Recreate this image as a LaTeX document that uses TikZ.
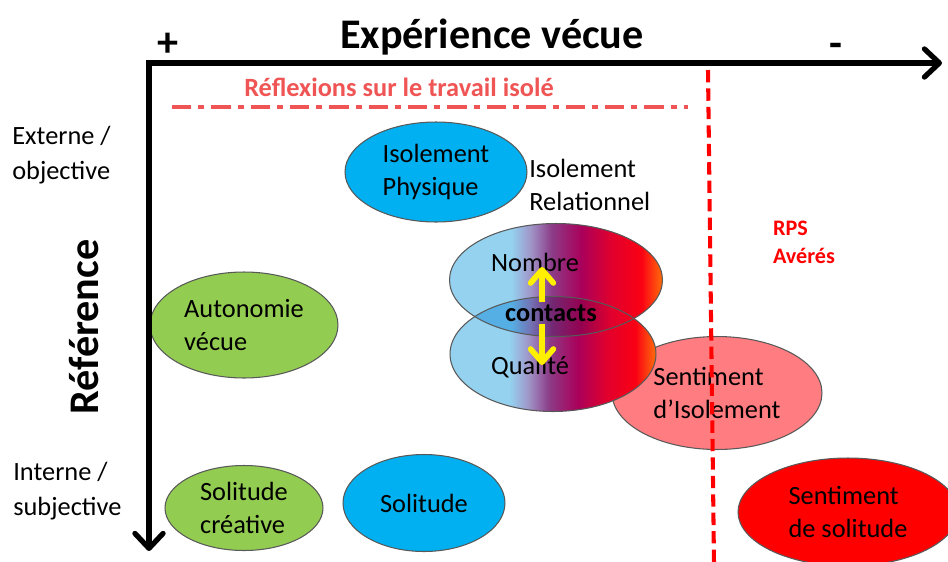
\documentclass[tikz,border=0pt]{standalone}
\usepackage{fontspec}
\setmainfont{Carlito}
\usepackage{tikz}
\usetikzlibrary{shapes.geometric, arrows.meta, positioning}
\definecolor{bluecolor}{RGB}{0, 176, 240}
\definecolor{greencolor}{RGB}{146, 204, 80}
\definecolor{salmoncolor}{RGB}{255, 124, 128}
\definecolor{redcolor}{RGB}{255, 0, 0}
\definecolor{notecolor}{RGB}{240, 85, 85}
\definecolor{arrowcolor}{RGB}{255, 240, 0}
\definecolor{gblue}{RGB}{148, 210, 240}
\definecolor{glav}{RGB}{160, 150, 200}
\definecolor{gpurple}{RGB}{140, 60, 135}
\definecolor{gcrimson}{RGB}{170, 0, 90}
\definecolor{gred}{RGB}{225, 0, 45}
\definecolor{gredb}{RGB}{250, 0, 20}
\definecolor{gorange}{RGB}{255, 110, 10}
\definecolor{dblue}{RGB}{85, 175, 228}
\definecolor{dlav}{RGB}{115, 115, 180}
\definecolor{dpurple}{RGB}{115, 40, 115}
\definecolor{dcrimson}{RGB}{150, 0, 80}
\pgfdeclarehorizontalshading{contactshade}{100bp}{color(0bp)=(gblue); color(25bp)=(gblue); color(39.5bp)=(gblue); color(44bp)=(glav); color(49bp)=(gpurple); color(56bp)=(gcrimson); color(63bp)=(gred); color(70bp)=(gredb); color(75bp)=(gorange); color(100bp)=(gorange)}
\pgfdeclarehorizontalshading{overlapshade}{100bp}{color(0bp)=(dblue); color(25bp)=(dblue); color(39.5bp)=(dblue); color(44bp)=(dlav); color(49bp)=(dpurple); color(56bp)=(dcrimson); color(63bp)=(gred); color(70bp)=(gredb); color(75bp)=(gorange); color(100bp)=(gorange)}

\begin{document}
\begin{tikzpicture}[x=0.02cm, y=-0.02cm,
    titre/.style={font=\fontsize{24}{29}\selectfont\bfseries, inner sep=0pt},
    txt/.style={font=\fontsize{15}{18.5}\selectfont, align=left, inner sep=0pt},
    blob/.style={ellipse, draw=black!65, line width=0.6pt, txt},
    outline/.style={draw=black!65, line width=0.6pt},
    axisline/.style={line width=3pt, line join=miter, {Straight Barb[length=8.5pt,width=16pt,round]}-{Straight Barb[length=8.5pt,width=16pt,round]}},
    yarrow/.style={line width=3.2pt, draw=arrowcolor, -{Straight Barb[length=7.5pt,width=13pt,round]}}]
    \useasboundingbox (0,0) rectangle (948,562);

    % Titles
    \node[titre, anchor=base] (titre) at (492,48) {Expérience vécue};
    \node[titre, anchor=base] (plus) at (168,56) {+};
    \node[titre, anchor=base] (moins) at (836,57) {-};
    \node[titre, rotate=90] (reference) at (84,327) {Référence};

    % Left labels
    \node[txt, anchor=west, font=\fontsize{15}{20}\selectfont] (externe) at (12,155) {Externe /\\objective};
    \node[txt, anchor=west, font=\fontsize{15}{20}\selectfont] (interne) at (13,491) {Interne /\\subjective};

    % Reflexions
    \node[txt, font=\fontsize{15}{18}\selectfont\bfseries, text=notecolor] (reflexions) at (399,87) {Réflexions sur le travail isolé};
    \draw[notecolor, line width=2.8pt, dash pattern=on 11pt off 4pt on 3.4pt off 4pt] (172,107) -- (688,107);

    % Isolement
    \node[blob, fill=bluecolor, minimum width=3.64cm, minimum height=2cm] (physique) at (436,172) {Isolement\\Physique};
    \node[txt, anchor=west] (relationnel) at (529,185) {Isolement\\Relationnel};

    % Autonomie
    \node[blob, fill=greencolor, minimum width=3.76cm, minimum height=2.12cm] (autonomie) at (244,325) {Autonomie\\vécue};

    % Sentiment d'isolement
    \node[blob, fill=salmoncolor, minimum width=4.2cm, minimum height=2.26cm] (sentiso) at (717,393) {Sentiment\\d’Isolement};

    % Contacts
    \node[ellipse, inner sep=0pt, minimum width=4.26cm, minimum height=2.26cm, shade, shading=contactshade] (nombre) at (556,280) {};
    \node[ellipse, inner sep=0pt, minimum width=4.12cm, minimum height=2.3cm, shade, shading=contactshade] (qualite) at (553,354) {};
    \begin{scope}
        \clip (qualite.center) ellipse [x radius=2.06cm, y radius=1.15cm];
        \shade[shading=overlapshade] (nombre.center) ellipse [x radius=2.13cm, y radius=1.13cm];
    \end{scope}
    \draw[outline] (nombre.center) ellipse [x radius=2.13cm, y radius=1.13cm];
    \draw[outline] (qualite.center) ellipse [x radius=2.06cm, y radius=1.15cm];
    \node[txt] (nombretxt) at (535,262) {Nombre};
    \node[txt] (qualitetxt) at (530,367) {Qualité};
    \node[txt, font=\fontsize{15}{18.5}\selectfont\bfseries, inner sep=1pt] (contacts) at (551,313) {contacts};
    \coordinate (upend) at (542,267);
    \coordinate (downend) at (542,365);
    \draw[yarrow] (contacts.north -| upend) -- (upend);
    \draw[yarrow] (contacts.south -| downend) -- (downend);

    % Solitude
    \node[blob, fill=greencolor, minimum width=3.16cm, minimum height=1.7cm] (creative) at (244,508) {Solitude\\créative};
    \node[blob, fill=bluecolor, minimum width=3.24cm, minimum height=1.94cm] (solitude) at (424,503) {Solitude};
    \node[blob, fill=redcolor, minimum width=4.4cm, minimum height=2.16cm] (sentsol) at (848,512) {Sentiment\\de solitude};

    % RPS
    \node[txt, font=\fontsize{12.6}{16}\selectfont\bfseries, text=redcolor] (rps) at (804,242) {RPS\\Avérés};
    \draw[redcolor, line width=2.3pt, dash pattern=on 7pt off 3.5pt] (708,70) -- (714,562);

    % Axes
    \coordinate (origine) at (149,63);
    \coordinate (xfin) at (942,63);
    \coordinate (yfin) at (149,551);
    \draw[axisline] (xfin) -- (origine) -- (yfin);
\end{tikzpicture}
\end{document}
